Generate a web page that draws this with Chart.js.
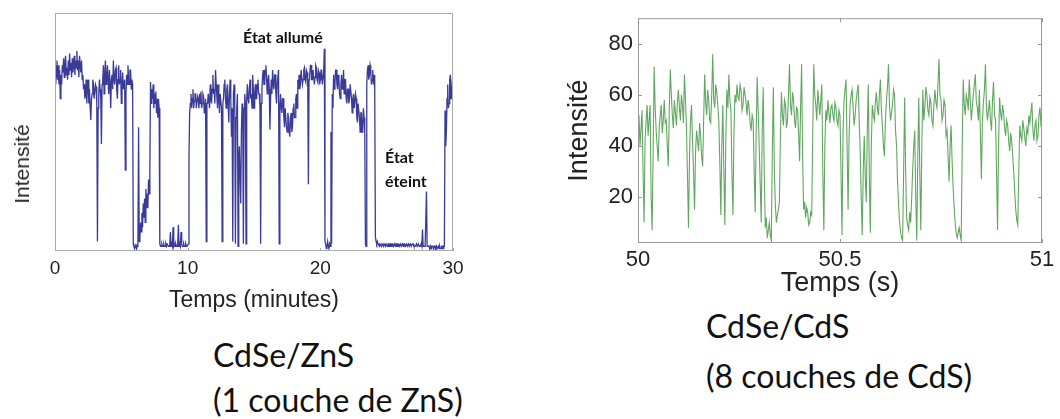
<!DOCTYPE html>
<html>
<head>
<meta charset="utf-8">
<script src="https://cdn.jsdelivr.net/npm/chart.js"></script>
<style>
  body { margin: 0; background: #fff; width: 1060px; height: 419px; overflow: hidden; position: relative; }
  #leftBox { position: absolute; left: 0; top: 0; width: 470px; height: 320px; }
  #rightBox { position: absolute; left: 540px; top: 0; width: 520px; height: 300px; }
  .note { position: absolute; font-family: Lato, sans-serif; font-weight: bold; font-size: 16px; color: #111; line-height: 24px; }
  .caption { position: absolute; font-family: Lato, sans-serif; font-size: 32px; color: #111; white-space: nowrap; }
  .ylab { position: absolute; font-family: "Liberation Sans", Arial, sans-serif; font-size: 21px; color: #222;
          transform: translate(-50%, -50%) rotate(-90deg); white-space: nowrap; }
</style>
</head>
<body>
<div id="leftBox"><canvas id="leftChart"></canvas></div>
<div id="rightBox"><canvas id="rightChart"></canvas></div>

<div class="ylab" style="left:22px; top:164px;">Intensité</div>
<div class="note" style="left:243px; top:25px;">État allumé</div>
<div class="note" style="left:385px; top:145px;">État<br>éteint</div>

<div class="caption" style="left:213px; top:332px; line-height:45px;">CdSe/ZnS<br>(1 couche de ZnS)</div>
<div class="caption" style="left:706px; top:301px; line-height:50px;">CdSe/CdS<br>(8 couches de CdS)</div>

<script>
  // CdSe/ZnS trace, one value every 0.05 min from 0 to 30 (one row per minute)
  const leftStart = 0;
  const leftStep = 0.05;
  const leftValues = [
    78, 70, 74, 80, 72, 78, 70, 76, 64, 74, 70, 78, 75, 81, 73, 79, 82, 74, 77, 72,   // 0
    80, 74, 83, 76, 79, 73, 81, 75, 78, 82, 74, 80, 77, 84, 76, 80, 73, 82, 78, 75,   // 1
    80, 72, 74, 68, 70, 64, 66, 72, 62, 70, 72, 62, 68, 60, 55, 64, 66, 72, 70, 64,   // 2
    64, 70, 69, 62, 4, 60, 66, 72, 68, 64, 45, 70, 72, 78, 66, 74, 80, 70, 72, 78,    // 3
    72, 66, 76, 70, 60, 72, 74, 68, 80, 72, 70, 76, 77, 68, 64, 72, 78, 70, 72, 76,   // 4
    62, 70, 75, 68, 68, 72, 34, 66, 74, 70, 78, 72, 70, 76, 76, 68, 72, 70, 3, 2,     // 5
    1, 2, 3, 1, 2, 3, 52, 4, 6, 12, 8, 16, 10, 20, 14, 22, 12, 26, 18, 24,            // 6
    18, 30, 24, 34, 71, 62, 68, 64, 70, 60, 66, 62, 67, 58, 64, 56, 64, 60, 3, 2,     // 7
    2, 3, 2, 2, 3, 2, 2, 3, 2, 3, 3, 2, 2, 3, 8, 2, 3, 2, 10, 2,                      // 8
    3, 2, 3, 2, 2, 3, 11, 2, 3, 2, 8, 3, 2, 2, 3, 2, 2, 3, 2, 2,                      // 9
    2, 3, 40, 58, 62, 66, 60, 64, 68, 60, 63, 66, 66, 60, 60, 65, 64, 60, 66, 62,     // 10
    67, 60, 62, 66, 65, 58, 60, 64, 4, 62, 62, 66, 66, 60, 70, 64, 62, 68, 74, 66,    // 11
    68, 62, 76, 70, 65, 60, 70, 64, 58, 66, 66, 60, 4, 62, 64, 70, 72, 64, 60, 68,    // 12
    70, 62, 54, 66, 72, 64, 48, 60, 4, 66, 70, 62, 3, 56, 60, 66, 2, 40, 44, 30,      // 13
    20, 50, 62, 58, 3, 60, 66, 62, 3, 64, 70, 64, 62, 68, 72, 64, 66, 60, 74, 68,     // 14
    60, 66, 70, 64, 64, 70, 72, 66, 66, 60, 3, 62, 68, 74, 76, 70, 70, 76, 78, 72,    // 15
    66, 72, 74, 68, 51, 64, 72, 66, 76, 70, 68, 74, 74, 66, 62, 70, 70, 76, 3, 60,    // 16
    66, 60, 58, 64, 64, 56, 52, 60, 60, 52, 50, 58, 56, 50, 48, 56, 58, 50, 52, 60,   // 17
    62, 56, 56, 64, 66, 60, 72, 68, 74, 68, 70, 76, 76, 70, 72, 76, 77, 72, 71, 76,   // 18
    75, 70, 28, 72, 74, 78, 78, 72, 72, 76, 76, 70, 73, 78, 77, 72, 71, 76, 75, 70,   // 19
    72, 76, 76, 70, 70, 75, 85, 4, 3, 1, 2, 4, 2, 1, 3, 2, 50, 3, 66, 60,             // 20
    74, 68, 70, 76, 76, 70, 68, 74, 72, 66, 64, 70, 74, 68, 70, 76, 66, 72, 72, 64,   // 21
    62, 68, 68, 62, 64, 70, 70, 64, 58, 64, 66, 60, 60, 66, 64, 56, 54, 62, 62, 56,   // 22
    50, 58, 58, 50, 52, 60, 56, 50, 3, 2, 70, 76, 78, 72, 74, 78, 76, 70, 72, 76,     // 23
    70, 74, 68, 6, 4, 3, 4, 3, 3, 2, 3, 3, 2, 3, 3, 2, 3, 3, 2, 3,                    // 24
    3, 2, 3, 3, 2, 3, 3, 2, 3, 3, 2, 2, 3, 2, 3, 3, 2, 3, 3, 2,                       // 25
    2, 3, 2, 2, 3, 2, 3, 3, 2, 2, 3, 2, 2, 3, 2, 2, 3, 2, 2, 3,                       // 26
    3, 2, 2, 2, 2, 3, 2, 2, 3, 2, 2, 2, 3, 2, 9, 2, 2, 2, 2, 2,                       // 27
    25, 2, 2, 2, 2, 1, 2, 1, 2, 2, 2, 1, 2, 2, 1, 2, 1, 1, 2, 1,                      // 28
    2, 1, 1, 2, 2, 1, 2, 2, 59, 44, 50, 64, 70, 60, 62, 72, 74, 64, 66, 72,           // 29
    72                                                                                // 30
  ];
  const leftXTicks = [0, 10, 20, 30];

  // CdSe/CdS trace, one value every 0.0025 s from 50 to 51 (one row per 0.05 s)
  const rightStart = 50;
  const rightStep = 0.0025;
  const rightValues = [
    48, 52, 40, 47, 54, 30, 10, 42, 50, 56, 44, 50, 56, 20, 7, 38, 71, 55, 46, 40,
    34, 47, 52, 56, 45, 50, 58, 49, 50, 40, 32, 55, 70, 60, 52, 47, 58, 53, 48, 57,
    62, 55, 50, 60, 56, 49, 68, 58, 47, 28, 8, 36, 50, 56, 42, 30, 15, 38, 46, 42,
    38, 49, 44, 36, 32, 50, 68, 57, 52, 62, 58, 50, 49, 60, 76, 58, 55, 64, 61, 56,
    50, 34, 13, 40, 56, 30, 9, 44, 62, 55, 68, 58, 54, 30, 13, 45, 60, 57, 64, 59,
    58, 64, 62, 54, 56, 63, 60, 57, 52, 58, 55, 49, 46, 52, 50, 30, 14, 45, 67, 54,
    40, 25, 10, 46, 63, 30, 8, 12, 4, 7, 10, 5, 3, 38, 63, 30, 17, 10, 13, 15,
    18, 44, 61, 52, 48, 58, 56, 47, 50, 60, 72, 56, 52, 61, 58, 50, 47, 55, 54, 45,
    34, 55, 72, 35, 15, 18, 12, 16, 14, 9, 10, 14, 13, 44, 72, 60, 56, 50, 62, 57,
    52, 58, 64, 30, 7, 40, 54, 50, 58, 53, 49, 55, 56, 52, 50, 57, 55, 50, 48, 54,
    52, 30, 5, 45, 58, 62, 66, 40, 15, 44, 56, 60, 62, 55, 48, 52, 58, 61, 64, 50,
    38, 20, 5, 30, 44, 28, 18, 46, 64, 30, 6, 40, 56, 52, 50, 57, 61, 55, 52, 60,
    66, 54, 48, 40, 36, 50, 58, 63, 72, 56, 50, 53, 56, 62, 60, 46, 40, 26, 17, 10,
    6, 4, 3, 30, 59, 30, 12, 9, 7, 14, 10, 20, 31, 40, 46, 20, 3, 35, 59, 30,
    7, 40, 62, 50, 55, 63, 60, 54, 52, 59, 57, 50, 48, 56, 62, 57, 55, 64, 74, 60,
    58, 50, 52, 58, 56, 44, 46, 36, 26, 40, 48, 34, 24, 16, 10, 6, 4, 6, 8, 5,
    3, 40, 66, 56, 52, 60, 58, 54, 66, 58, 50, 55, 60, 64, 68, 57, 55, 50, 62, 45,
    27, 50, 57, 62, 72, 55, 50, 54, 58, 50, 46, 58, 65, 52, 50, 30, 7, 40, 59, 53,
    50, 56, 53, 47, 44, 50, 48, 42, 38, 45, 42, 36, 30, 22, 15, 11, 9, 30, 48, 44,
    42, 50, 47, 43, 40, 47, 45, 52, 49, 53, 57, 46, 42, 48, 50, 42, 44, 52, 55, 48,
    46
  ];
  const rightXTicks = [50, 50.5, 51];
  const rightYTicks = [20, 40, 60, 80];

  Chart.defaults.font.family = '"Liberation Sans", Arial, sans-serif';
  Chart.defaults.color = '#222';

  // box round the plot plus small tick marks pointing inwards (matlab look)
  const frameTicks = {
    id: 'frameTicks',
    afterDatasetsDraw(chart, args, opts) {
      const { ctx, chartArea: a, scales } = chart;
      ctx.save();
      ctx.strokeStyle = opts.color;
      ctx.lineWidth = 1;
      ctx.strokeRect(a.left + 0.5, a.top + 0.5, a.width - 1, a.height - 1);
      ctx.beginPath();
      const len = opts.len;
      scales.x.ticks.forEach(t => {
        const px = Math.round(scales.x.getPixelForValue(t.value)) + 0.5;
        ctx.moveTo(px, a.bottom); ctx.lineTo(px, a.bottom - len);
        if (opts.mirror) { ctx.moveTo(px, a.top); ctx.lineTo(px, a.top + len); }
      });
      if (opts.yTicks) {
        scales.y.ticks.forEach(t => {
          const py = Math.round(scales.y.getPixelForValue(t.value)) + 0.5;
          ctx.moveTo(a.left, py); ctx.lineTo(a.left + len, py);
          ctx.moveTo(a.right, py); ctx.lineTo(a.right - len, py);
        });
      }
      ctx.stroke();
      ctx.restore();
    }
  };

  const leftPoints = leftValues.map((v, i) => ({ x: leftStart + i * leftStep, y: v }));
  const rightPoints = rightValues.map((v, i) => ({ x: rightStart + i * rightStep, y: v }));

  new Chart(document.getElementById('leftChart'), {
    type: 'line',
    data: {
      datasets: [{
        data: leftPoints,
        borderColor: 'rgba(24,24,135,0.85)',
        borderWidth: 1.3,
        pointRadius: 0,
        tension: 0
      }]
    },
    options: {
      responsive: true,
      maintainAspectRatio: false,
      animation: false,
      layout: { padding: { top: 13, right: 17, left: 0, bottom: 0 } },
      plugins: {
        legend: { display: false },
        tooltip: { enabled: false },
        frameTicks: { color: '#aaa', len: 3, mirror: false, yTicks: false }
      },
      scales: {
        x: {
          type: 'linear',
          min: 0,
          max: 30,
          afterBuildTicks: s => { s.ticks = leftXTicks.map(v => ({ value: v })); },
          afterFit: s => { s.height = 69; },
          grid: { display: false, drawTicks: false },
          border: { display: false },
          ticks: { font: { size: 19 }, padding: 6 },
          title: { display: true, text: 'Temps (minutes)', font: { size: 23 }, padding: { top: 0, bottom: 6 } }
        },
        y: {
          min: 0,
          max: 100,
          afterFit: s => { s.width = 55; },
          grid: { display: false, drawTicks: false },
          border: { display: false },
          ticks: { display: false }
        }
      }
    },
    plugins: [frameTicks]
  });

  new Chart(document.getElementById('rightChart'), {
    type: 'line',
    data: {
      datasets: [{
        data: rightPoints,
        borderColor: 'rgba(30,130,30,0.7)',
        borderWidth: 1.1,
        pointRadius: 0,
        tension: 0
      }]
    },
    options: {
      responsive: true,
      maintainAspectRatio: false,
      animation: false,
      layout: { padding: { top: 18, right: 18, left: 0, bottom: 0 } },
      plugins: {
        legend: { display: false },
        tooltip: { enabled: false },
        frameTicks: { color: '#999', len: 4, mirror: true, yTicks: true }
      },
      scales: {
        x: {
          type: 'linear',
          min: 50,
          max: 51,
          afterBuildTicks: s => { s.ticks = rightXTicks.map(v => ({ value: v })); },
          afterFit: s => { s.height = 57; },
          grid: { display: false, drawTicks: false },
          border: { display: false },
          ticks: { font: { size: 22 }, padding: 4, callback: v => String(v) },
          title: { display: true, text: 'Temps (s)', font: { size: 27 }, padding: { top: 0, bottom: 0 } }
        },
        y: {
          min: 2,
          max: 90,
          afterBuildTicks: s => { s.ticks = rightYTicks.map(v => ({ value: v })); },
          afterFit: s => { s.width = 98; },
          grid: { display: false, drawTicks: false },
          border: { display: false },
          ticks: { font: { size: 22 }, padding: 5 },
          title: { display: true, text: 'Intensité', font: { size: 27 }, padding: { top: 23, bottom: 0 } }
        }
      }
    },
    plugins: [frameTicks]
  });
</script>
</body>
</html>
